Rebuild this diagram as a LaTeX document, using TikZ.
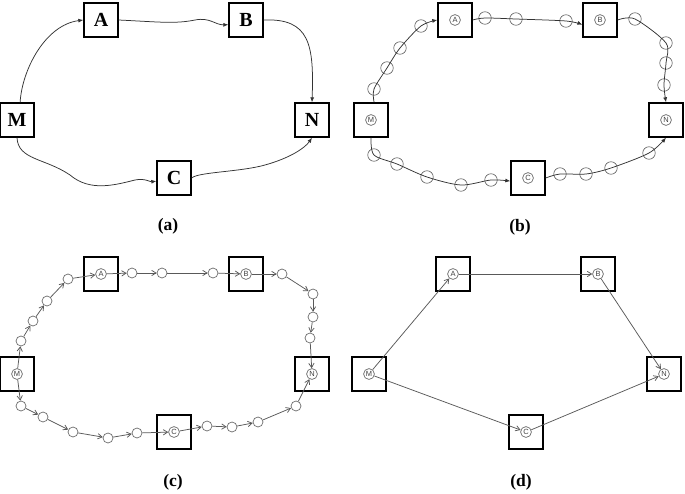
\documentclass[tikz,border=0pt]{standalone}
\usepackage{fontspec}
\setmainfont{Liberation Serif}
\setsansfont{Liberation Sans}
\usetikzlibrary{arrows.meta}

\begin{document}
\begin{tikzpicture}[
  x=0.6pt, y=-0.6pt,
  site/.style={draw, line width=1.2pt, minimum size=20pt, inner sep=0pt,
               font=\fontsize{12}{12}\selectfont\bfseries},
  cell/.style={draw, line width=1.2pt, minimum size=20pt, inner sep=0pt},
  tag/.style ={draw=black!60, circle, minimum size=6.5pt, inner sep=0pt,
               font=\sffamily\fontsize{4.5}{5}\selectfont, text=black!75},
  bead/.style={draw=black!60, circle, minimum size=7.5pt, inner sep=0pt},
  knot/.style={draw=black!60, circle, minimum size=6pt, inner sep=0pt},
  wire/.style={black!80, line width=0.45pt, -{Latex[length=3pt,width=2.4pt]}},
  hop/.style ={black!65, line width=0.45pt, -{Straight Barb[length=2.6pt,width=3.2pt]}},
  caption/.style={font=\fontsize{10.5}{12}\selectfont\bfseries}
]
\useasboundingbox (0,0) rectangle (685,493);

% (a) paths between sites
\node[site] (Ma) at (17,120) {M};
\node[site] (Aa) at (101,20) {A};
\node[site] (Ba) at (246,20) {B};
\node[site] (Na) at (312,120) {N};
\node[site] (Ca) at (174,178) {C};
\node[caption] (capa) at (168,226) {(a)};

\draw[wire] (Ma.80) .. controls (22,70) and (45,25) .. (Aa.west);
\draw[wire] (Aa.east) .. controls (160,22) and (175,24) .. (195,20)
            .. controls (210,17) and (215,25) .. (Ba.195);
\draw[wire] (Ba.east) .. controls (310,18) and (314,45) .. (Na.north);
\draw[wire] (Ma.south) .. controls (18,160) and (45,158) .. (70,175)
            .. controls (90,192) and (115,185) .. (135,180)
            .. controls (145,178) and (150,182) .. (Ca.190);
\draw[wire] (Ca.east) .. controls (198,172) and (240,172) .. (265,165)
            .. controls (290,158) and (305,148) .. (Na.south);

% (b) sampled points on the paths
\begin{scope}[shift={(354,0)}]
  \node[cell] (Mb) at (17,120) {};
  \node[cell] (Ab) at (101,20) {};
  \node[cell] (Bb) at (246,20) {};
  \node[cell] (Nb) at (312,120) {};
  \node[cell] (Cb) at (174,178) {};
  \node[tag] (mb) at (Mb) {M};
  \node[tag] (ab) at (Ab) {A};
  \node[tag] (bb) at (Bb) {B};
  \node[tag] (nb) at (Nb) {N};
  \node[tag] (cb) at (Cb) {C};
  \node[caption] (capb) at (166,227) {(b)};

  \foreach \x/\y [count=\i] in {20/89,33/68,46/48,67/26}
    \node[bead] (bma\i) at (\x,\y) {};
  \foreach \x/\y [count=\i] in {131/18,162/19,212/21}
    \node[bead] (bab\i) at (\x,\y) {};
  \foreach \x/\y [count=\i] in {281/19,312/43,312/63,310/85}
    \node[bead] (bbn\i) at (\x,\y) {};
  \foreach \x/\y [count=\i] in {20/155,43/164,73/177,107/185,137/180}
    \node[bead] (bmc\i) at (\x,\y) {};
  \foreach \x/\y [count=\i] in {206/174,232/174,257/168,295/153}
    \node[bead] (bcn\i) at (\x,\y) {};

  \draw[wire] plot[smooth] coordinates {(Mb.80) (bma1.center) (bma2.center)
    (bma3.center) (bma4.center) (Ab.west)};
  \draw[wire] plot[smooth] coordinates {(Ab.east) (bab1.center) (bab2.center)
    (bab3.center) (Bb.195)};
  \draw[wire] plot[smooth] coordinates {(Bb.east) (bbn1.center) (bbn2.center)
    (bbn3.center) (bbn4.center) (Nb.north)};
  \draw[wire] plot[smooth] coordinates {(Mb.south) (bmc1.center) (bmc2.center)
    (bmc3.center) (bmc4.center) (bmc5.center) (Cb.190)};
  \draw[wire] plot[smooth] coordinates {(Cb.east) (bcn1.center) (bcn2.center)
    (bcn3.center) (bcn4.center) (Nb.south)};
\end{scope}

% (c) points linked one after another
\begin{scope}[shift={(0,254)}]
  \node[cell] (Mc) at (17,120) {};
  \node[cell] (Ac) at (101,20) {};
  \node[cell] (Bc) at (246,20) {};
  \node[cell] (Nc) at (312,120) {};
  \node[cell] (Cc) at (174,178) {};
  \node[tag] (mc) at (Mc) {M};
  \node[tag] (ac) at (Ac) {A};
  \node[tag] (bc) at (Bc) {B};
  \node[tag] (nc) at (Nc) {N};
  \node[tag] (cc) at (Cc) {C};
  \node[caption] (capc) at (173,228) {(c)};

  \foreach \x/\y [count=\i] in {21/87,33/67,47/47,68/25}
    \node[knot] (cma\i) at (\x,\y) {};
  \foreach \x/\y [count=\i] in {132/19,162/19,213/19}
    \node[knot] (cab\i) at (\x,\y) {};
  \foreach \x/\y [count=\i] in {282/20,313/40,313/63,310/84}
    \node[knot] (cbn\i) at (\x,\y) {};
  \foreach \x/\y [count=\i] in {21/152,43/163,73/178,108/184,137/179}
    \node[knot] (cmc\i) at (\x,\y) {};
  \foreach \x/\y [count=\i] in {207/172,232/173,258/168,296/152}
    \node[knot] (ccn\i) at (\x,\y) {};

  \foreach \u/\v in {mc/cma1,cma1/cma2,cma2/cma3,cma3/cma4,cma4/ac,
                     ac/cab1,cab1/cab2,cab2/cab3,cab3/bc,
                     bc/cbn1,cbn1/cbn2,cbn2/cbn3,cbn3/cbn4,cbn4/nc,
                     mc/cmc1,cmc1/cmc2,cmc2/cmc3,cmc3/cmc4,cmc4/cmc5,cmc5/cc,
                     cc/ccn1,ccn1/ccn2,ccn2/ccn3,ccn3/ccn4,ccn4/nc}
    \draw[hop] (\u) -- (\v);
\end{scope}

% (d) straight links
\begin{scope}[shift={(352,254)}]
  \node[cell] (Md) at (17,120) {};
  \node[cell] (Ad) at (101,20) {};
  \node[cell] (Bd) at (246,20) {};
  \node[cell] (Nd) at (312,120) {};
  \node[cell] (Cd) at (174,178) {};
  \node[tag] (md) at (Md) {M};
  \node[tag] (ad) at (Ad) {A};
  \node[tag] (bd) at (Bd) {B};
  \node[tag] (nd) at (Nd) {N};
  \node[tag] (cd) at (Cd) {C};
  \node[caption] (capd) at (169,228) {(d)};

  \draw[hop] (md) -- (ad);
  \draw[hop] (ad) -- (bd);
  \draw[hop] (bd) -- (nd);
  \draw[hop] (md) -- (cd);
  \draw[hop] (cd) -- (nd);
\end{scope}
\end{tikzpicture}
\end{document}
